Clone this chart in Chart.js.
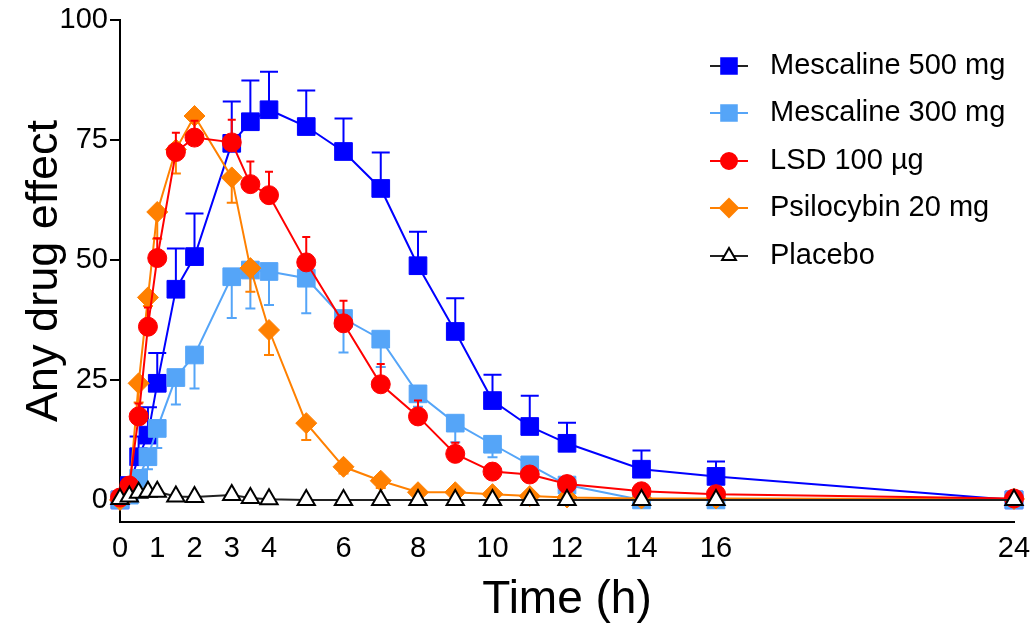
<!DOCTYPE html>
<html>
<head>
<meta charset="utf-8">
<script src="https://cdn.jsdelivr.net/npm/chart.js@4"></script>
<style>
  body { margin: 0; background: #fff; }
</style>
</head>
<body>
<canvas id="myChart" width="1034" height="628"></canvas>
<script>
// time points (h)
var times = [0, 0.25, 0.5, 0.75, 1, 1.5, 2, 3, 3.5, 4, 5, 6, 7, 8, 9, 10, 11, 12, 14, 16, 24];
var xTicks = [0, 1, 2, 3, 4, 6, 8, 10, 12, 14, 16, 24];
var yTicks = [0, 25, 50, 75, 100];

var mesc500 = [0, 3, 9, 13.5, 24.3, 43.9, 50.7, 74.3, 78.8, 81.3, 77.8, 72.6, 64.9, 48.8, 35.1, 20.7, 15.3, 11.8, 6.4, 4.9, 0];
var mesc500Sem = [0, 1.5, 4.2, 5.8, 6.3, 8.5, 9, 8.7, 8.6, 7.9, 7.5, 6.9, 7.5, 7.1, 6.9, 5.4, 6.4, 4.3, 3.9, 3.1, 0];

var mesc300 = [0, 1, 4.5, 9, 14.9, 25.5, 30.2, 46.5, 47.9, 47.6, 46.2, 37.8, 33.5, 22.1, 16, 11.6, 7.3, 3.1, 0, 0, 0];
var mesc300Sem = [0, 0.5, 1.5, 2.6, 4.1, 5.6, 7, 8.6, 8, 7, 7.3, 7.1, 5.8, 2.7, 4, 2.7, 2, 1.5, 0, 0, 0];

var lsd = [0.5, 3, 17.4, 36.1, 50.4, 72.5, 75.5, 74.5, 65.8, 63.5, 49.5, 36.8, 24.1, 17.4, 9.6, 5.9, 5.3, 3.3, 1.8, 1.2, 0.3];
var lsdSem = [0, 0.8, 2.7, 4, 4.1, 4, 3.5, 4.7, 4.7, 4.9, 5.3, 4.7, 4.2, 3.3, 2.3, 1.5, 1, 1, 0.6, 0.5, 0];

var psilo = [0, 1.5, 24.3, 42.2, 60, 73, 80, 67.2, 48.3, 35.4, 16, 6.9, 4, 1.6, 1.6, 1.2, 0.8, 0.5, 0.3, 0.3, 0.2];
var psiloSem = [0, 0.5, 4, 1.8, 5.6, 5, 4, 5.3, 4.9, 5.2, 3.5, 1.4, 1.5, 0.5, 0.5, 0.5, 0.3, 0.2, 0, 0, 0];

var placebo = [0.2, 0.7, 1.5, 1.7, 1.7, 0.7, 0.6, 1, 0.4, 0.15, 0, 0, 0, 0, 0, 0, 0, 0, 0, 0, 0];

var FONT = 'Arial, "Liberation Sans", sans-serif';

function pts(vals) {
  return vals.map(function (v, i) { return { x: times[i], y: v }; });
}

// SEM bars, drawn just under each series
var errorBars = {
  id: 'errorBars',
  beforeDatasetDraw: function (chart, args) {
    var ds = chart.data.datasets[args.index];
    if (!ds.sem) return;
    var ctx = chart.ctx;
    var y = chart.scales.y;
    ctx.save();
    ctx.strokeStyle = ds.borderColor;
    ctx.lineWidth = 2;
    args.meta.data.forEach(function (pt, i) {
      var e = ds.sem[i];
      if (!e) return;
      var yEnd = y.getPixelForValue(ds.data[i].y + ds.semDir * e);
      ctx.beginPath();
      ctx.moveTo(pt.x, pt.y);
      ctx.lineTo(pt.x, yEnd);
      ctx.moveTo(pt.x - ds.capW, yEnd);
      ctx.lineTo(pt.x + ds.capW, yEnd);
      ctx.stroke();
    });
    ctx.restore();
  }
};

var legendRows = [
  { label: 'Mescaline 500 mg', line: '#222', fill: '#0000ff', stroke: '#0000ff', style: 'rect', r: 11, y: 66 },
  { label: 'Mescaline 300 mg', line: '#55a5f8', fill: '#55a5f8', stroke: '#55a5f8', style: 'rect', r: 11, y: 113 },
  { label: 'LSD 100 µg', line: '#ff0000', fill: '#ff0000', stroke: '#ff0000', style: 'circle', r: 8, y: 161 },
  { label: 'Psilocybin 20 mg', line: '#ff8000', fill: '#ff8000', stroke: '#ff8000', style: 'rectRot', r: 9, y: 208 },
  { label: 'Placebo', line: '#222', fill: '#fff', stroke: '#000', style: 'triangle', r: 8, y: 256 }
];

var myLegend = {
  id: 'myLegend',
  afterDraw: function (chart) {
    var ctx = chart.ctx;
    ctx.save();
    legendRows.forEach(function (row) {
      ctx.strokeStyle = row.line;
      ctx.lineWidth = 2;
      ctx.beginPath();
      ctx.moveTo(710, row.y);
      ctx.lineTo(748, row.y);
      ctx.stroke();
      ctx.fillStyle = row.fill;
      ctx.strokeStyle = row.stroke;
      ctx.lineWidth = 2;
      Chart.helpers.drawPoint(ctx, { pointStyle: row.style, radius: row.r, rotation: 0, borderWidth: 2 }, 729, row.y);
      ctx.fillStyle = '#000';
      ctx.font = '29px ' + FONT;
      ctx.textBaseline = 'middle';
      ctx.textAlign = 'left';
      ctx.fillText(row.label, 770, row.y);
    });
    ctx.restore();
  }
};

new Chart('myChart', {
  type: 'line',
  data: {
    datasets: [
      {
        label: 'Placebo', data: pts(placebo), order: 0,
        borderColor: '#222', borderWidth: 2,
        pointStyle: 'triangle', pointRadius: 10, pointBackgroundColor: '#fff',
        pointBorderColor: '#000', pointBorderWidth: 2
      },
      {
        label: 'LSD 100 µg', data: pts(lsd), order: 1,
        sem: lsdSem, semDir: 1, capW: 4,
        borderColor: '#ff0000', borderWidth: 2,
        pointStyle: 'circle', pointRadius: 9.5, pointBackgroundColor: '#ff0000',
        pointBorderColor: '#ff0000', pointBorderWidth: 1
      },
      {
        label: 'Psilocybin 20 mg', data: pts(psilo), order: 2,
        sem: psiloSem, semDir: -1, capW: 5,
        borderColor: '#ff8000', borderWidth: 2,
        pointStyle: 'rectRot', pointRadius: 10.5, pointBackgroundColor: '#ff8000',
        pointBorderColor: '#ff8000', pointBorderWidth: 1
      },
      {
        label: 'Mescaline 300 mg', data: pts(mesc300), order: 3,
        sem: mesc300Sem, semDir: -1, capW: 5,
        borderColor: '#55a5f8', borderWidth: 2,
        pointStyle: 'rect', pointRadius: 12.5, pointBackgroundColor: '#55a5f8',
        pointBorderColor: '#55a5f8', pointBorderWidth: 1
      },
      {
        label: 'Mescaline 500 mg', data: pts(mesc500), order: 4,
        sem: mesc500Sem, semDir: 1, capW: 9,
        borderColor: '#0000ff', borderWidth: 2,
        pointStyle: 'rect', pointRadius: 12.5, pointBackgroundColor: '#0000ff',
        pointBorderColor: '#0000ff', pointBorderWidth: 1
      }
    ]
  },
  options: {
    responsive: false,
    animation: false,
    layout: { padding: { top: 20, right: 20, left: 0, bottom: 0 } },
    elements: { line: { tension: 0 } },
    datasets: { line: { clip: false } },
    plugins: { legend: { display: false }, tooltip: { enabled: false } },
    scales: {
      x: {
        type: 'linear', min: 0, max: 24,
        afterBuildTicks: function (s) { s.ticks = xTicks.map(function (v) { return { value: v }; }); },
        afterFit: function (s) { s.height = 106; s.paddingRight = 0; s.paddingLeft = 0; },
        grid: { display: false, drawTicks: false },
        border: { display: true, color: '#000', width: 2 },
        ticks: { color: '#000', font: { family: FONT, size: 29 }, padding: 10, maxRotation: 0, autoSkip: false },
        title: { display: true, text: 'Time (h)', color: '#000', font: { family: FONT, size: 46, lineHeight: 1 }, padding: { top: 0, bottom: 5 } }
      },
      y: {
        type: 'linear', min: -4.6, max: 100,
        afterBuildTicks: function (s) { s.ticks = yTicks.map(function (v) { return { value: v }; }); },
        afterFit: function (s) { s.width = 120; },
        grid: { drawOnChartArea: false, drawTicks: true, tickLength: 10, color: '#000', lineWidth: 2 },
        border: { display: true, color: '#000', width: 2 },
        ticks: { color: '#000', font: { family: FONT, size: 29 }, padding: 2 },
        title: { display: true, text: 'Any drug effect', color: '#000', font: { family: FONT, size: 45, lineHeight: 1 }, padding: { top: 22, bottom: 0 } }
      }
    }
  },
  plugins: [errorBars, myLegend]
});
</script>
</body>
</html>
